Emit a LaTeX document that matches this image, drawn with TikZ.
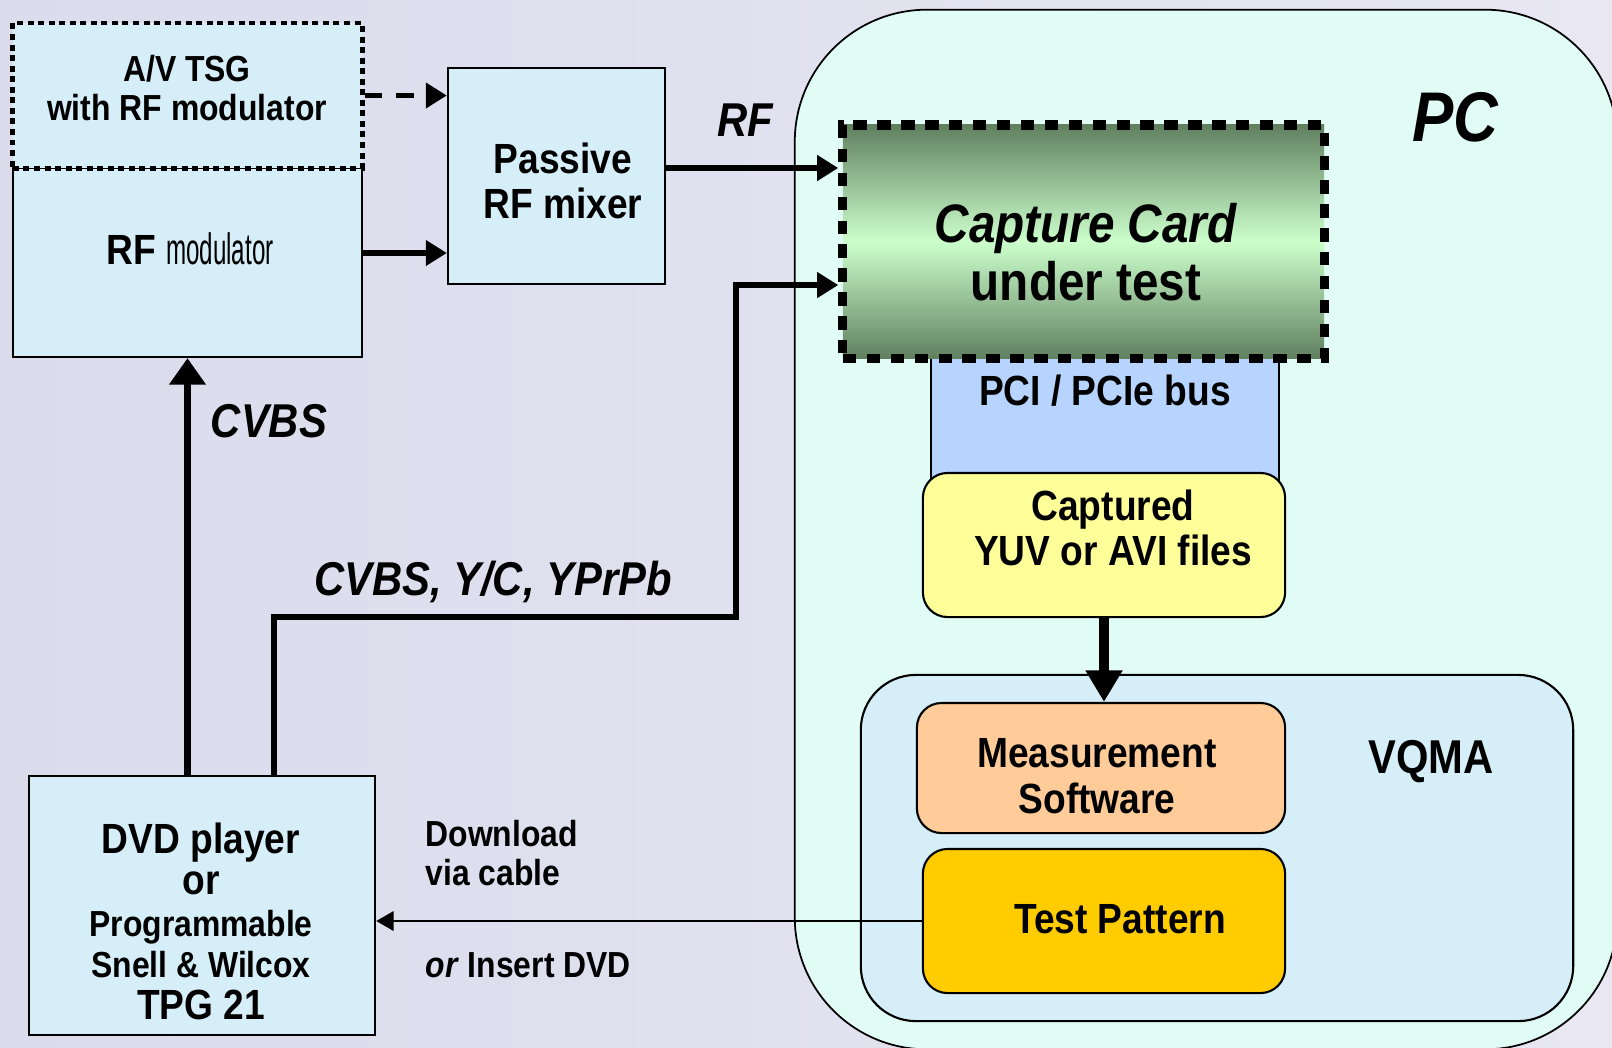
\documentclass[tikz,border=0pt]{standalone}
\usepackage{fontspec}
\setmainfont[FakeStretch=0.88]{Liberation Sans}
\newfontfamily\narrowsans[FakeStretch=0.55]{Liberation Sans}
\usetikzlibrary{arrows.meta}

\definecolor{bgleft}{RGB}{218,220,236}
\definecolor{bgright}{RGB}{232,231,242}
\definecolor{boxblue}{RGB}{214,238,248}
\definecolor{pcmint}{RGB}{224,252,244}
\definecolor{busblue}{RGB}{183,212,255}
\definecolor{fileyellow}{RGB}{255,255,153}
\definecolor{measorange}{RGB}{255,204,153}
\definecolor{patterngold}{RGB}{255,204,0}
\definecolor{carddark}{RGB}{96,128,96}
\definecolor{cardlight}{RGB}{204,255,204}

\begin{document}
\begin{tikzpicture}[x=0.01cm, y=-0.01cm,
  every node/.style={inner sep=0pt},
  blk/.style={draw, line width=0.6pt, fill=boxblue},
  rblk/.style={draw, line width=0.6pt, rounded corners=7pt},
  txt/.style={font=\fontsize{12}{13}\selectfont\bfseries, align=center},
  smalltxt/.style={font=\fontsize{10.3}{11}\selectfont\bfseries, align=center},
  lbl/.style={font=\fontsize{13.5}{15}\selectfont\bfseries\itshape},
  sig/.style={line width=1.5pt, -{Triangle[length=6pt,width=7pt]}},
  bigsig/.style={line width=1.8pt, -{Triangle[length=7.5pt,width=10pt]}}]
  \clip (0,0) rectangle (1612,1047);
  \shade[left color=bgleft, right color=bgright] (0,0) rectangle (1612,1047);

  % PC side
  \node[draw, line width=0.5pt, fill=pcmint, rounded corners=1.32cm,
        minimum width=8.22cm, minimum height=10.39cm] (pc) at (1206,529.5) {};
  \node[font=\fontsize{20}{22}\selectfont\bfseries\itshape] (pclbl) at (1455,117) {PC};
  \node[draw, line width=0.6pt, fill=busblue, minimum width=3.48cm, minimum height=1.25cm] (bus) at (1105,420.5) {};
  \node[txt] (bustxt) at (1105,391) {PCI / PCIe bus};
  \node[draw, line width=2.6pt, dash pattern=on 3.8pt off 3pt,
        top color=carddark, bottom color=carddark, middle color=cardlight,
        minimum width=4.81cm, minimum height=2.33cm] (card) at (1083.5,241.5) {};
  \node[font=\fontsize{15.4}{16.5}\selectfont\bfseries, align=center] (cardtxt) at (1086,252) {\textit{Capture Card}\\under test};
  \node[rblk, fill=fileyellow, minimum width=3.62cm, minimum height=1.44cm] (files) at (1104,545) {};
  \node[txt] (filestxt) at (1113,528) {Captured\\YUV or AVI files};
  \node[rblk, rounded corners=0.55cm, fill=boxblue, minimum width=7.12cm, minimum height=3.46cm] (vqma) at (1217,848) {};
  \node[font=\fontsize{13.5}{15}\selectfont\bfseries] (vqmalbl) at (1431,762) {VQMA};
  \node[rblk, fill=measorange, minimum width=3.68cm, minimum height=1.30cm] (meas) at (1101,768) {};
  \node[txt] (meastxt) at (1097,776) {Measurement\\Software};
  \node[rblk, fill=patterngold, minimum width=3.62cm, minimum height=1.44cm] (pattern) at (1104,921) {};
  \node[txt] (patterntxt) at (1120,919) {Test Pattern};

  % sources
  \node[blk, minimum width=3.49cm, minimum height=1.89cm] (rfmod) at (187.5,262.5) {};
  \node (rfmodtxt) at (190,249) {\fontsize{12}{13}\selectfont\bfseries RF \narrowsans\mdseries\fontsize{12.5}{13}\selectfont modulator};
  \node[blk, line width=1.4pt, dash pattern=on 1.7pt off 1.3pt, minimum width=3.49cm, minimum height=1.45cm] (tsg) at (187.5,95.5) {};
  \node[smalltxt] (tsgtxt) at (187,88) {A/V TSG\\with RF modulator};
  \node[blk, minimum width=2.17cm, minimum height=2.16cm] (mixer) at (556.5,176) {};
  \node[txt] (mixertxt) at (563,181) {Passive\\RF mixer};
  \node[blk, minimum width=3.46cm, minimum height=2.59cm] (dvd) at (202,905.5) {};
  \node[align=center, font=\bfseries\fontsize{10.3}{11.8}\selectfont] (dvdtxt) at (201,921)
    {{\fontsize{12}{11.8}\selectfont DVD player}\\{\fontsize{12}{11.8}\selectfont or}\\Programmable\\Snell \& Wilcox\\{\fontsize{12}{11.8}\selectfont TPG 21}};

  % labels
  \node[lbl] (rflbl) at (745,120) {RF};
  \node[lbl] (cvbslbl) at (269,421) {CVBS};
  \node[lbl] (multilbl) at (493,582) {CVBS, Y/C, YPrPb};
  \node[smalltxt, align=left, anchor=west] (dltxt) at (425,853) {Download\\via cable};
  \node[smalltxt, anchor=west] (instxt) at (425,965) {\textit{or} Insert DVD};

  % signals
  \draw[sig, dashed, dash pattern=on 5pt off 4pt] (tsg.east) -- (tsg.east -| mixer.west);
  \draw[sig] ([yshift=0.095cm]rfmod.east) -- ([yshift=0.095cm]rfmod.east -| mixer.west);
  \draw[sig] ([yshift=0.08cm]mixer.east) -- ([yshift=0.08cm]mixer.east -| card.west);
  \draw[bigsig] (rfmod.south |- dvd.north) -- (rfmod.south);
  \coordinate (jog) at (736,617);
  \draw[sig, line width=1.8pt] ([xshift=0.72cm]dvd.north) |- (jog) |- ([yshift=-0.435cm]card.west);
  \draw[line width=2.6pt, -{Triangle[length=9pt,width=10pt]}] (files.south) -- (files.south |- meas.north);
  \draw[line width=0.8pt, -{Triangle[length=5pt,width=5.5pt]}] (pattern.west) -- (pattern.west -| dvd.east);
\end{tikzpicture}
\end{document}
